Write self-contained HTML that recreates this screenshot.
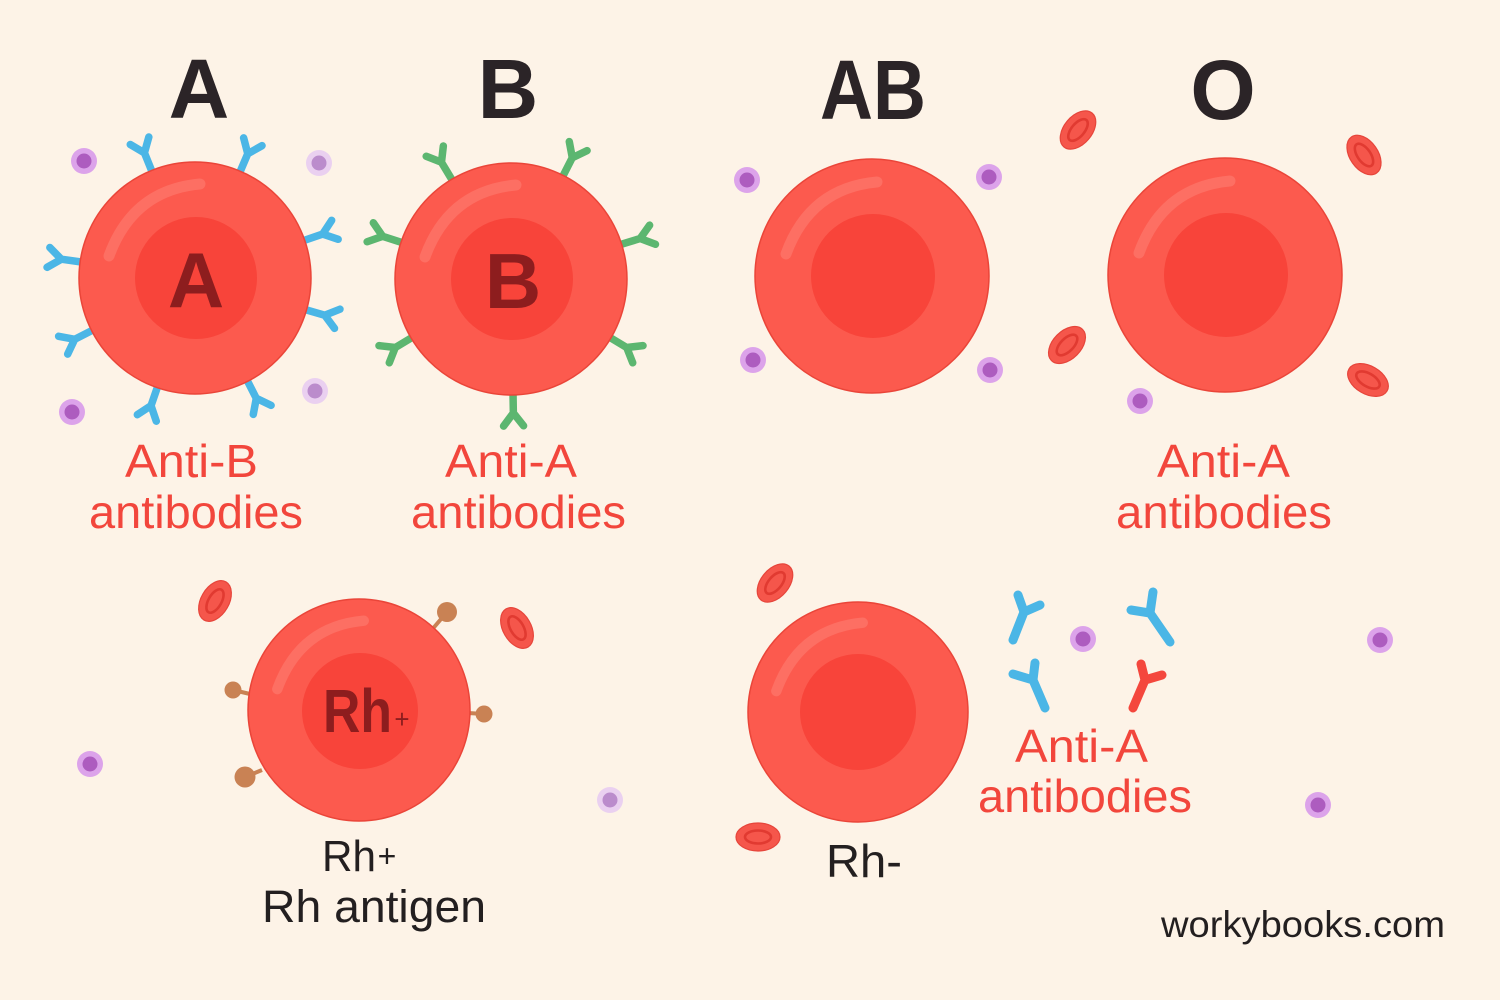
<!DOCTYPE html>
<html>
<head>
<meta charset="utf-8">
<style>
  html,body{margin:0;padding:0;background:#fdf3e7;}
  svg{display:block;}
  text{font-family:"Liberation Sans",sans-serif;}
</style>
</head>
<body>
<svg width="1500" height="1000" viewBox="0 0 1500 1000" xmlns="http://www.w3.org/2000/svg">
  <defs>
    <g id="ab">
      <path d="M104,0 L135,0 M135,0 L148,-10 M135,0 L148,10" fill="none" stroke-linecap="round" stroke-linejoin="round"/>
    </g>
    <g id="hl">
      <path d="M5,-94 Q-62,-88 -86,-22" fill="none" stroke="#fd786c" stroke-width="11" stroke-linecap="round" opacity="0.7"/>
    </g>
    <g id="disc">
      <ellipse cx="0" cy="0" rx="22" ry="14" fill="#f5564b" stroke="#e6453b" stroke-width="1.2"/>
      <ellipse cx="0" cy="0" rx="13" ry="6.5" fill="none" stroke="#e13a31" stroke-width="2.6"/>
    </g>
    <g id="pd">
      <circle r="13" fill="#dca3ea"/>
      <circle r="7.5" fill="#ad5cbf"/>
    </g>
    <g id="pdl">
      <circle r="13" fill="#ead0f0"/>
      <circle r="7.5" fill="#bb8ccc"/>
    </g>
  </defs>

  <rect width="1500" height="1000" fill="#fdf3e7"/>

  <!-- Titles -->
  <text x="199" y="118" font-size="84" font-weight="bold" fill="#2b2427" text-anchor="middle">A</text>
  <text x="508" y="118" font-size="84" font-weight="bold" fill="#2b2427" text-anchor="middle">B</text>
  <text x="820" y="119" font-size="84" font-weight="bold" fill="#2b2427" textLength="106" lengthAdjust="spacingAndGlyphs">AB</text>
  <text x="1223" y="119" font-size="84" font-weight="bold" fill="#2b2427" text-anchor="middle">O</text>

  <!-- purple dots -->
  <use href="#pd" x="84" y="161"/>
  <use href="#pdl" x="319" y="163"/>
  <use href="#pdl" x="315" y="391"/>
  <use href="#pd" x="72" y="412"/>
  <use href="#pd" x="747" y="180"/>
  <use href="#pd" x="989" y="177"/>
  <use href="#pd" x="753" y="360"/>
  <use href="#pd" x="990" y="370"/>
  <use href="#pd" x="1140" y="401"/>
  <use href="#pd" x="90" y="764"/>
  <use href="#pdl" x="610" y="800"/>
  <use href="#pd" x="1083" y="639"/>
  <use href="#pd" x="1380" y="640"/>
  <use href="#pd" x="1318" y="805"/>

  <!-- red small discs -->
  <use href="#disc" transform="translate(1078,130) rotate(-50)"/>
  <use href="#disc" transform="translate(1364,155) rotate(55)"/>
  <use href="#disc" transform="translate(1067,345) rotate(-45)"/>
  <use href="#disc" transform="translate(1368,380) rotate(30)"/>
  <use href="#disc" transform="translate(215,601) rotate(-60)"/>
  <use href="#disc" transform="translate(517,628) rotate(60)"/>
  <use href="#disc" transform="translate(775,583) rotate(-50)"/>
  <use href="#disc" transform="translate(758,837) rotate(0)"/>

  <!-- A cell antibodies (blue) -->
  <g stroke="#4bb6e6" stroke-width="7.5">
    <use href="#ab" transform="translate(195,278) rotate(-112)"/>
    <use href="#ab" transform="translate(195,278) rotate(-67)"/>
    <use href="#ab" transform="translate(195,278) rotate(-19)"/>
    <use href="#ab" transform="translate(195,278) rotate(16)"/>
    <use href="#ab" transform="translate(195,278) rotate(63)"/>
    <use href="#ab" transform="translate(195,278) rotate(109)"/>
    <use href="#ab" transform="translate(195,278) rotate(153)"/>
    <use href="#ab" transform="translate(195,278) rotate(188)"/>
  </g>
  <!-- B cell antibodies (green) -->
  <g stroke="#5cb670" stroke-width="7.5">
    <use href="#ab" transform="translate(511,278) rotate(-121)"/>
    <use href="#ab" transform="translate(511,278) rotate(-63)"/>
    <use href="#ab" transform="translate(511,278) rotate(-17)"/>
    <use href="#ab" transform="translate(511,278) rotate(31)"/>
    <use href="#ab" transform="translate(511,278) rotate(89)"/>
    <use href="#ab" transform="translate(511,278) rotate(149)"/>
    <use href="#ab" transform="translate(511,278) rotate(198)"/>
  </g>

  <!-- Rh antigens (brown lollipops) -->
  <g stroke="#c98254" stroke-width="4" fill="#c98254">
    <line x1="430" y1="632" x2="447" y2="612"/>
    <line x1="250" y1="694" x2="233" y2="690"/>
    <line x1="468" y1="713" x2="484" y2="714"/>
    <line x1="262" y1="770" x2="245" y2="777"/>
  </g>
  <g fill="#c98254">
    <circle cx="447" cy="612" r="10"/>
    <circle cx="233" cy="690" r="8.5"/>
    <circle cx="484" cy="714" r="8.5"/>
    <circle cx="245" cy="777" r="10.5"/>
  </g>

  <!-- Cells -->
  <g stroke="#ea4539" stroke-width="1.5">
    <circle cx="195" cy="278" r="116" fill="#fc5a4e"/>
    <circle cx="511" cy="279" r="116" fill="#fc5a4e"/>
    <circle cx="872" cy="276" r="117" fill="#fc5a4e"/>
    <circle cx="1225" cy="275" r="117" fill="#fc5a4e"/>
    <circle cx="359" cy="710" r="111" fill="#fc5a4e"/>
    <circle cx="858" cy="712" r="110" fill="#fc5a4e"/>
  </g>
  <g fill="#f8443a">
    <circle cx="196" cy="278" r="61"/>
    <circle cx="512" cy="279" r="61"/>
    <circle cx="873" cy="276" r="62"/>
    <circle cx="1226" cy="275" r="62"/>
    <circle cx="360" cy="711" r="58"/>
    <circle cx="858" cy="712" r="58"/>
  </g>
  <!-- highlights -->
  <use href="#hl" transform="translate(195,278)"/>
  <use href="#hl" transform="translate(511,279)"/>
  <use href="#hl" transform="translate(872,276)"/>
  <use href="#hl" transform="translate(1225,275)"/>
  <use href="#hl" transform="translate(359,710) scale(0.95)"/>
  <use href="#hl" transform="translate(858,712) scale(0.95)"/>

  <!-- nucleus letters -->
  <text x="196" y="307" font-size="78" font-weight="bold" fill="#8d1d1e" text-anchor="middle">A</text>
  <text x="513" y="308" font-size="78" font-weight="bold" fill="#8d1d1e" text-anchor="middle">B</text>
  <text x="323" y="732" font-size="61" font-weight="bold" fill="#8d1d1e" textLength="69" lengthAdjust="spacingAndGlyphs">Rh</text>
  <text x="402" y="728" font-size="26" fill="#8d1d1e" text-anchor="middle">+</text>

  <!-- free antibodies -->
  <g fill="none" stroke-linecap="round" stroke-linejoin="round" stroke-width="9">
    <path d="M1013,640 L1024,612 M1024,612 L1018,595 M1024,612 L1040,605" stroke="#4bb6e6"/>
    <path d="M1170,642 L1150,613 M1150,613 L1131,610 M1150,613 L1153,592" stroke="#4bb6e6"/>
    <path d="M1045,708 L1033,680 M1033,680 L1013,674 M1033,680 L1035,663" stroke="#4bb6e6"/>
    <path d="M1133,708 L1145,680 M1145,680 L1141,664 M1145,680 L1162,675" stroke="#f4473d"/>
  </g>

  <!-- red labels -->
  <g fill="#f2463c" font-size="46">
    <text x="125" y="477" textLength="133" lengthAdjust="spacingAndGlyphs">Anti-B</text>
    <text x="89" y="528" textLength="214" lengthAdjust="spacingAndGlyphs">antibodies</text>
    <text x="445" y="477" textLength="132" lengthAdjust="spacingAndGlyphs">Anti-A</text>
    <text x="411" y="528" textLength="215" lengthAdjust="spacingAndGlyphs">antibodies</text>
    <text x="1157" y="477" textLength="133" lengthAdjust="spacingAndGlyphs">Anti-A</text>
    <text x="1116" y="528" textLength="216" lengthAdjust="spacingAndGlyphs">antibodies</text>
    <text x="1015" y="762" textLength="133" lengthAdjust="spacingAndGlyphs">Anti-A</text>
    <text x="978" y="812" textLength="214" lengthAdjust="spacingAndGlyphs">antibodies</text>
  </g>

  <!-- black labels -->
  <g fill="#231f20">
    <text x="322" y="871" font-size="44" textLength="54" lengthAdjust="spacingAndGlyphs">Rh</text>
    <text x="387" y="867" font-size="32" text-anchor="middle">+</text>
    <text x="262" y="922" font-size="45" textLength="224" lengthAdjust="spacingAndGlyphs">Rh antigen</text>
    <text x="826" y="877" font-size="46" textLength="76" lengthAdjust="spacingAndGlyphs">Rh-</text>
    <text x="1161" y="937" font-size="37" textLength="284" lengthAdjust="spacingAndGlyphs">workybooks.com</text>
  </g>
</svg>
</body>
</html>
